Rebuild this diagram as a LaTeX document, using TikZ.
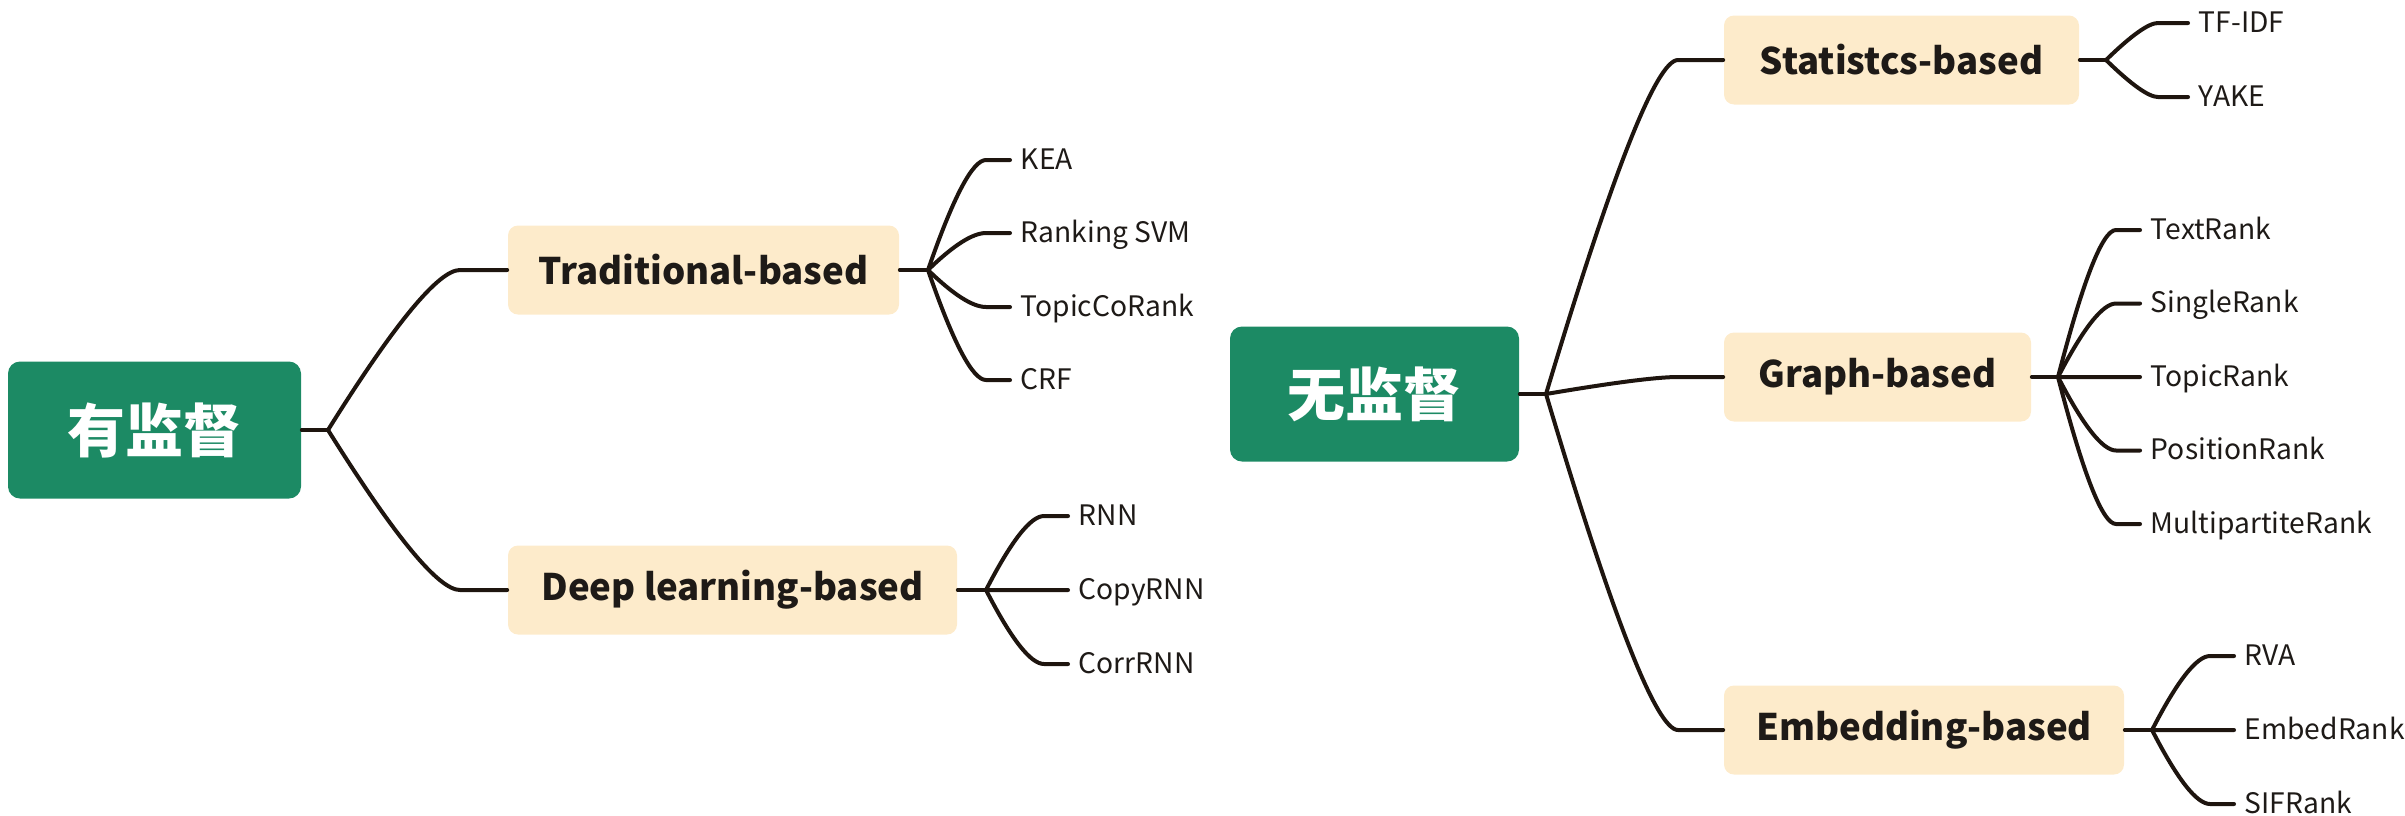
\documentclass[tikz,border=0pt]{standalone}
\usepackage{fontspec}
\setmainfont{Noto Sans CJK SC}
\usetikzlibrary{calc}
\definecolor{rootgreen}{HTML}{1C8A64}
\definecolor{subfill}{HTML}{FDEBCB}
\definecolor{linecol}{HTML}{1E150F}
\definecolor{txtcol}{HTML}{1E1A17}
\newcommand{\mmcurve}[4]{%
  \path ([xshift=#3]#1 |- #2) coordinate (mmA) ([xshift=#4]#1 |- #2) coordinate (mmE);
  \draw[conn] (#1) .. controls ($(#1)!0.6667!(mmA)$) and ($(mmE)!0.6667!(mmA)$) .. (mmE) -- (#2);
}
\begin{document}
\begin{tikzpicture}[x=0.25pt,y=-0.25pt,
  rootbox/.style={fill=rootgreen, rounded corners=3pt, text=white,
    font=\fontsize{14.5}{16}\selectfont\bfseries, inner sep=0pt},
  subbox/.style={fill=subfill, rounded corners=2.5pt, text=txtcol,
    font=\fontsize{9.15}{11}\selectfont\bfseries, inner sep=0pt, minimum height=22.25pt},
  leaf/.style={anchor=west, inner xsep=2.5pt, inner ysep=0pt, text=txtcol,
    text height=4.6pt, text depth=0pt, font=\fontsize{7.05}{8}\selectfont},
  conn/.style={draw=linecol, line width=1pt, line cap=round, line join=round}]
\useasboundingbox (0,0) rectangle (2405,815);

% root nodes
\node[rootbox, minimum width=73.25pt, minimum height=34.25pt] (sup) at (154.5,430) {有监督};
\node[rootbox, minimum width=72.25pt, minimum height=33.75pt] (unsup) at (1374.5,394) {无监督};

% second level
\node[subbox, minimum width=97.75pt] (trad) at (703.5,270) {Traditional-based};
\node[subbox, minimum width=112.25pt] (deep) at (732.5,590) {Deep learning-based};
\node[subbox, minimum width=88.75pt] (stat) at (1901.5,60) {Statistcs-based};
\node[subbox, minimum width=76.75pt] (graph) at (1877.5,377) {Graph-based};
\node[subbox, minimum width=100pt] (emb) at (1924,730) {Embedding-based};

% junctions
\coordinate (jsup) at (328,430);
\coordinate (junsup) at (1546,394);
\coordinate (jtrad) at (928,270);
\coordinate (jdeep) at (986,590);
\coordinate (jstat) at (2106,60);
\coordinate (jgraph) at (2058,377);
\coordinate (jemb) at (2152,730);

% leaves
\node[leaf] (kea) at (1010,160) {KEA};
\node[leaf] (rsvm) at (1010,233) {Ranking SVM};
\node[leaf] (tcr) at (1010,307) {TopicCoRank};
\node[leaf] (crf) at (1010,380) {CRF};

\node[leaf] (rnn) at (1068,516) {RNN};
\node[leaf] (copy) at (1068,590) {CopyRNN};
\node[leaf] (corr) at (1068,664) {CorrRNN};

\node[leaf] (tfidf) at (2188,23) {TF-IDF};
\node[leaf] (yake) at (2188,97) {YAKE};

\node[leaf] (textr) at (2140,230) {TextRank};
\node[leaf] (single) at (2140,303.5) {SingleRank};
\node[leaf] (topicr) at (2140,377) {TopicRank};
\node[leaf] (posr) at (2140,450.5) {PositionRank};
\node[leaf] (multi) at (2140,524) {MultipartiteRank};

\node[leaf] (rva) at (2234,656) {RVA};
\node[leaf] (embr) at (2234,730) {EmbedRank};
\node[leaf] (sif) at (2234,804) {SIFRank};

% stubs from boxes to junctions
\draw[conn] (sup.east) -- (jsup);
\draw[conn] (unsup.east) -- (junsup);
\draw[conn] (trad.east) -- (jtrad);
\draw[conn] (deep.east) -- (jdeep);
\draw[conn] (stat.east) -- (jstat);
\draw[conn] (graph.east) -- (jgraph);
\draw[conn] (emb.east) -- (jemb);

% main branches
\mmcurve{jsup}{trad.west}{25pt}{33pt}
\mmcurve{jsup}{deep.west}{25pt}{33pt}
\mmcurve{junsup}{stat.west}{25pt}{33pt}
\mmcurve{junsup}{graph.west}{25pt}{33pt}
\mmcurve{junsup}{emb.west}{25pt}{33pt}

% leaf branches
\mmcurve{jtrad}{kea.west}{9.5pt}{14.5pt}
\mmcurve{jtrad}{rsvm.west}{9.5pt}{14.5pt}
\mmcurve{jtrad}{tcr.west}{9.5pt}{14.5pt}
\mmcurve{jtrad}{crf.west}{9.5pt}{14.5pt}

\mmcurve{jdeep}{rnn.west}{9.5pt}{14.5pt}
\mmcurve{jdeep}{copy.west}{9.5pt}{14.5pt}
\mmcurve{jdeep}{corr.west}{9.5pt}{14.5pt}

\mmcurve{jstat}{tfidf.west}{9.5pt}{13pt}
\mmcurve{jstat}{yake.west}{9.5pt}{13pt}

\mmcurve{jgraph}{textr.west}{9.5pt}{14.5pt}
\mmcurve{jgraph}{single.west}{9.5pt}{14.5pt}
\mmcurve{jgraph}{topicr.west}{9.5pt}{14.5pt}
\mmcurve{jgraph}{posr.west}{9.5pt}{14.5pt}
\mmcurve{jgraph}{multi.west}{9.5pt}{14.5pt}

\mmcurve{jemb}{rva.west}{9.5pt}{14.5pt}
\mmcurve{jemb}{embr.west}{9.5pt}{14.5pt}
\mmcurve{jemb}{sif.west}{9.5pt}{14.5pt}
\end{tikzpicture}
\end{document}
